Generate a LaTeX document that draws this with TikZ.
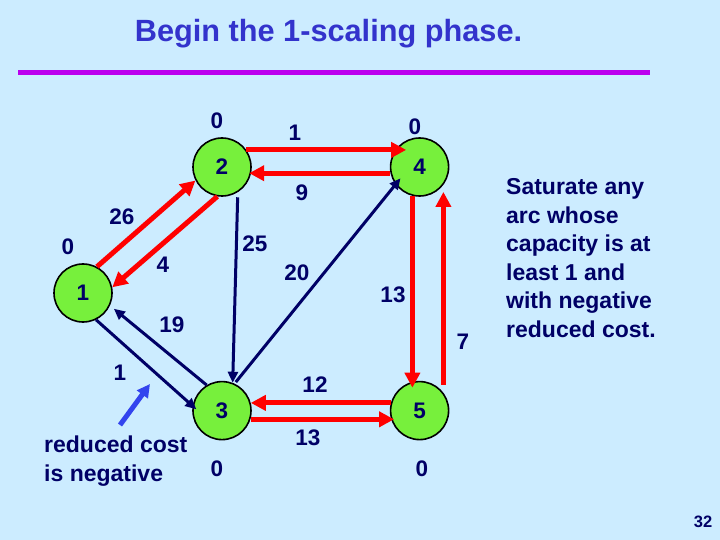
\documentclass[tikz,border=0pt]{standalone}
\usepackage{fontspec}
\setmainfont{Liberation Sans}
\usetikzlibrary{positioning, arrows.meta}

\definecolor{bgBlue}{RGB}{204,236,255}
\definecolor{nodeGreen}{RGB}{119,240,60}
\definecolor{navyInk}{RGB}{0,0,102}
\definecolor{titleBlue}{RGB}{51,51,204}
\definecolor{ruleMagenta}{RGB}{187,0,238}
\definecolor{hintBlue}{RGB}{51,68,238}
\newcommand{\lblfont}{\fontsize{22.5}{27}\selectfont\bfseries}
\newcommand{\txtfont}{\fontsize{23}{28.6}\selectfont\bfseries}

\begin{document}
\begin{tikzpicture}[x=1pt, y=-1pt,
    vNode/.style={circle, draw, line width=1.6pt, fill=nodeGreen, minimum size=58pt, inner sep=0pt, font=\lblfont, text=navyInk},
    rEdge/.style={draw=red, line width=5pt, -{Triangle[length=15pt, width=15pt]}},
    bEdge/.style={draw=navyInk, line width=3pt, -{Triangle[length=11pt, width=10pt]}},
    hintArrow/.style={draw=hintBlue, line width=5pt, -{Triangle[length=13pt, width=13pt]}},
    lbl/.style={text=navyInk, font=\lblfont, inner sep=0pt}
]
    \fill[bgBlue] (0,0) rectangle (720,540);
    \node[text=titleBlue, font=\fontsize{30.7}{36}\selectfont\bfseries, anchor=base] (title) at (328.5,42) {Begin the 1-scaling phase.};
    \draw[ruleMagenta, line width=5pt] (18,72.5) -- (650,72.5);

    \node[vNode] (n2) at (222,167) {2};
    \node[vNode, right=138pt of n2] (n4) {4};
    \node[vNode, below=184pt of n2] (n3) {3};
    \node[vNode, right=138pt of n3] (n5) {5};
    \node[vNode] (n1) at (83,293) {1};

    \node[lbl] (p2) at (217,121) {0};
    \node[lbl] (p4) at (415,127) {0};
    \node[lbl] (p1) at (68,247) {0};
    \node[lbl] (p3) at (217,469) {0};
    \node[lbl] (p5) at (422,469) {0};

    \path (n2.35) edge[rEdge, shorten >=-11pt] (n4.145)
          (n4.192) edge[rEdge, shorten >=-2pt] (n2.-12)
          (n4.256) edge[rEdge, shorten >=-6pt] (n5.104)
          (n5.37) edge[rEdge, shorten <=8pt, shorten >=7pt] (n4.-37)
          (n1.62) edge[rEdge] (n2.207)
          (n2.261) edge[rEdge] (n1.11)
          (n5.165) edge[rEdge] (n3.15)
          (n3.-17) edge[rEdge, shorten >=-3pt] (n5.197);
    \path (n2.-58) edge[bEdge, shorten <=5pt] (n3.69)
          (n3.65) edge[bEdge, shorten <=2pt, shorten >=-8pt] (n4.216)
          (n3.121) edge[bEdge, shorten >=5pt] (n1.-25)
          (n1.-64) edge[bEdge, shorten >=-5pt] (n3.171);

    \node[lbl] (c24) at (295,133) {1};
    \node[lbl] (c42) at (302,193) {9};
    \node[lbl] (c12) at (122,217) {26};
    \node[lbl] (c21) at (163,265) {4};
    \node[lbl] (c23) at (255,244) {25};
    \node[lbl] (c34) at (297,273) {20};
    \node[lbl] (c45) at (393,295) {13};
    \node[lbl] (c54) at (463,342) {7};
    \node[lbl] (c31) at (172,325) {19};
    \node[lbl] (c13) at (120,373) {1};
    \node[lbl] (c53) at (315,385) {12};
    \node[lbl] (c35) at (308,438) {13};

    \coordinate (hintTail) at (120,425);
    \coordinate (hintHead) at (150,384);
    \path (hintTail) edge[hintArrow] (hintHead);
    \node[lbl, font=\txtfont, align=left, anchor=west] (hint) at (44,461) {reduced cost\\is negative};

    \node[lbl, font=\txtfont, align=left, anchor=west] (note) at (506,258) {Saturate any\\arc whose\\capacity is at\\least 1 and\\with negative\\reduced cost.};
    \node[lbl, font=\fontsize{16.5}{20}\selectfont\bfseries] (pageNo) at (703,522) {32};
\end{tikzpicture}
\end{document}
